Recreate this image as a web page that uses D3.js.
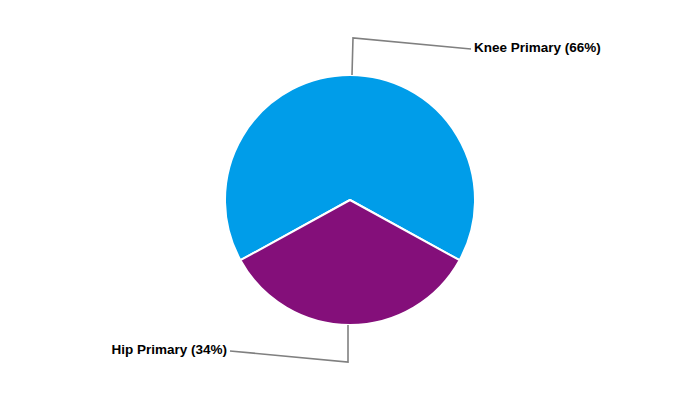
<!DOCTYPE html>
<html><head><meta charset="utf-8">
<script src="https://cdn.jsdelivr.net/npm/d3@7"></script>
<style>body{margin:0;background:#fff}svg{display:block}</style>
</head><body>
<svg id="c" width="700" height="400"></svg>
<script>
const categories = ["Knee Primary", "Hip Primary"];
const values = [66, 34];
const colors = ["#009DE9", "#840F7A"];

const W = 700, H = 400, cx = 350, cy = 200, R = 125;
const svg = d3.select("#c");
const g = svg.append("g").attr("transform", `translate(${cx},${cy})`);
const data = categories.map((c, i) => ({name: c, value: values[i]}));
const total = d3.sum(values);
const startA = -Math.PI * values[0] / total;
const pie = d3.pie().value(d => d.value).sort(null)
  .startAngle(startA).endAngle(startA + 2 * Math.PI);
const arcs = pie(data);
const arc = d3.arc().innerRadius(0).outerRadius(R);
g.selectAll("path.s").data(arcs).enter().append("path")
  .attr("d", arc).attr("fill", (d, i) => colors[i])
  .attr("stroke", "#fff").attr("stroke-width", 2).attr("stroke-linejoin", "round");

const ext = 37, horiz = 118, drop = 11;
arcs.forEach((d, i) => {
  const a = (d.startAngle + d.endAngle) / 2;
  const sx = Math.sin(a), sy = -Math.cos(a);
  const p1 = [sx * R + 2 * (i === 0 ? 1 : -1), sy * R];
  const p2 = [p1[0] + 1 * (i === 0 ? 1 : 0), sy * (R + ext)];
  const right = i === 0;
  const p3 = [p2[0] + (right ? horiz : -horiz), p2[1] + (right ? drop : -drop)];
  g.append("polyline").attr("points", [p1, p2, p3].map(p => p.join(",")).join(" "))
    .attr("fill", "none").attr("stroke", "#808080").attr("stroke-width", 1.6);
  g.append("text").attr("x", p3[0] + (right ? 3 : -3)).attr("y", p3[1] - 1)
    .attr("text-anchor", right ? "start" : "end").attr("dominant-baseline", "middle")
    .attr("font-family", "Liberation Sans, Arial, sans-serif").attr("font-weight", "bold")
    .attr("font-size", 13.5).attr("fill", "#000")
    .text(`${d.data.name} (${Math.round(d.data.value / total * 100)}%)`);
});
</script>
</body></html>
